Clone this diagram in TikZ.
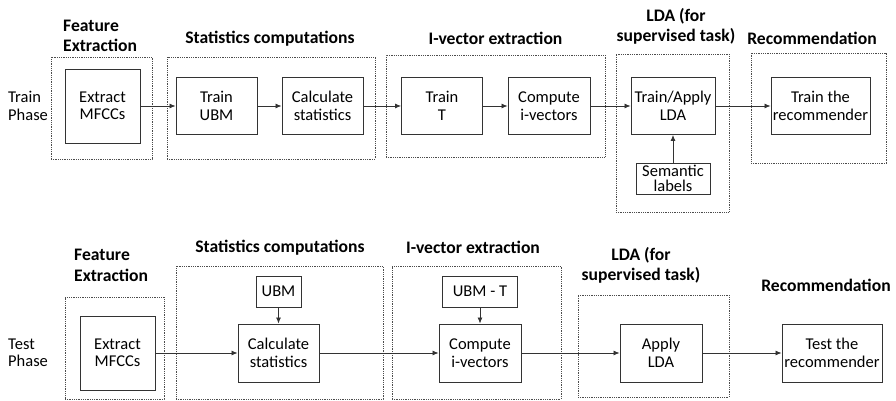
\documentclass[tikz,border=0pt]{standalone}
\usepackage{fontspec}
\setmainfont{Carlito}
\usetikzlibrary{arrows.meta}

\begin{document}
\begin{tikzpicture}[x=1pt,y=-1pt,
  stepbox/.style={draw=black!80,line width=0.9pt,align=center,inner sep=0pt,font=\fontsize{16.5}{17.5}\selectfont},
  grpbox/.style={draw=black!70,densely dotted,line width=0.8pt,inner sep=0pt},
  grptitle/.style={font=\fontsize{17.6}{20.5}\selectfont\bfseries,inner sep=0pt},
  phase/.style={align=left,inner sep=0pt,font=\fontsize{16.5}{17.5}\selectfont},
  flow/.style={-{Latex[length=6pt,width=5pt]},line width=0.8pt,draw=black!80}]
\useasboundingbox (0,0) rectangle (896,401);
% train phase
\node[phase,anchor=west] (trainlbl) at (8,106) {Train\\Phase};
\node[grpbox,minimum width=101pt,minimum height=102pt] (fegrp1) at (101.5,108) {};
\node[grptitle,align=left,anchor=west] (fetitle1) at (63,36) {Feature\\Extraction};
\node[stepbox,minimum width=75pt,minimum height=74pt] (mfcc1) at (102.5,106) {Extract\\MFCCs};
\node[grpbox,minimum width=208pt,minimum height=102pt] (stgrp1) at (271,108) {};
\node[grptitle] (sttitle1) at (270,38.5) {Statistics computations};
\node[stepbox,minimum width=81pt,minimum height=57pt] (ubm1) at (216.5,106) {Train\\UBM};
\node[stepbox,minimum width=81pt,minimum height=57pt] (calc1) at (322.5,106) {Calculate\\statistics};
\node[grpbox,minimum width=219pt,minimum height=102pt] (ivgrp1) at (495.5,106) {};
\node[grptitle] (ivtitle1) at (495.5,38.5) {I-vector extraction};
\node[stepbox,minimum width=81pt,minimum height=57pt] (trt1) at (442,106) {Train\\T};
\node[stepbox,minimum width=82pt,minimum height=57pt] (comp1) at (549,106) {Compute\\i-vectors};
\node[grpbox,minimum width=113pt,minimum height=158pt] (ldagrp1) at (672.5,133) {};
\node[grptitle,align=center] (ldatitle1) at (676,26.5) {LDA (for\\supervised task)};
\node[stepbox,minimum width=84pt,minimum height=57pt] (lda1) at (673,106) {Train/Apply\\LDA};
\node[stepbox,minimum width=74pt,minimum height=31pt,font=\fontsize{16.5}{15}\selectfont] (sem) at (673,178.5) {Semantic\\labels};
\node[grpbox,minimum width=135pt,minimum height=110pt] (recgrp1) at (818.5,108) {};
\node[grptitle] (rectitle1) at (812,38.5) {Recommendation};
\node[stepbox,minimum width=99pt,minimum height=57pt] (rec1) at (820.5,106) {Train the\\recommender};
% test phase
\node[phase,anchor=west] (testlbl) at (8,353) {Test\\Phase};
\node[grpbox,minimum width=99pt,minimum height=102pt] (fegrp2) at (114.5,348) {};
\node[grptitle,align=left,anchor=west] (fetitle2) at (74,265.5) {Feature\\Extraction};
\node[stepbox,minimum width=75pt,minimum height=74pt] (mfcc2) at (117.5,353) {Extract\\MFCCs};
\node[grpbox,minimum width=207pt,minimum height=133pt] (stgrp2) at (279.5,332.5) {};
\node[grptitle] (sttitle2) at (280,247.5) {Statistics computations};
\node[stepbox,minimum width=45pt,minimum height=31pt] (ubm2) at (278.5,291.5) {UBM};
\node[stepbox,minimum width=81pt,minimum height=58pt] (calc2) at (278.5,353) {Calculate\\statistics};
\node[grpbox,minimum width=169pt,minimum height=133pt] (ivgrp2) at (476.5,332.5) {};
\node[grptitle] (ivtitle2) at (473,247.5) {I-vector extraction};
\node[stepbox,minimum width=75pt,minimum height=31pt] (ubmt) at (480,291.5) {UBM - T};
\node[stepbox,minimum width=82pt,minimum height=58pt] (comp2) at (480,353) {Compute\\i-vectors};
\node[grpbox,minimum width=151pt,minimum height=102pt] (ldagrp2) at (653.5,346) {};
\node[grptitle,align=center] (ldatitle2) at (641,265.5) {LDA (for\\supervised task)};
\node[stepbox,minimum width=82pt,minimum height=58pt] (lda2) at (661,353) {Apply\\LDA};
\node[grptitle] (rectitle2) at (826,285.5) {Recommendation};
\node[stepbox,minimum width=100pt,minimum height=58pt] (rec2) at (832,353) {Test the\\recommender};
% connectors
\foreach \from/\to in {mfcc1/ubm1,ubm1/calc1,calc1/trt1,trt1/comp1,comp1/lda1,lda1/rec1,sem/lda1,
  mfcc2/calc2,ubm2/calc2,calc2/comp2,ubmt/comp2,comp2/lda2,lda2/rec2}
  { \draw[flow] (\from) -- (\to); }
\end{tikzpicture}
\end{document}
